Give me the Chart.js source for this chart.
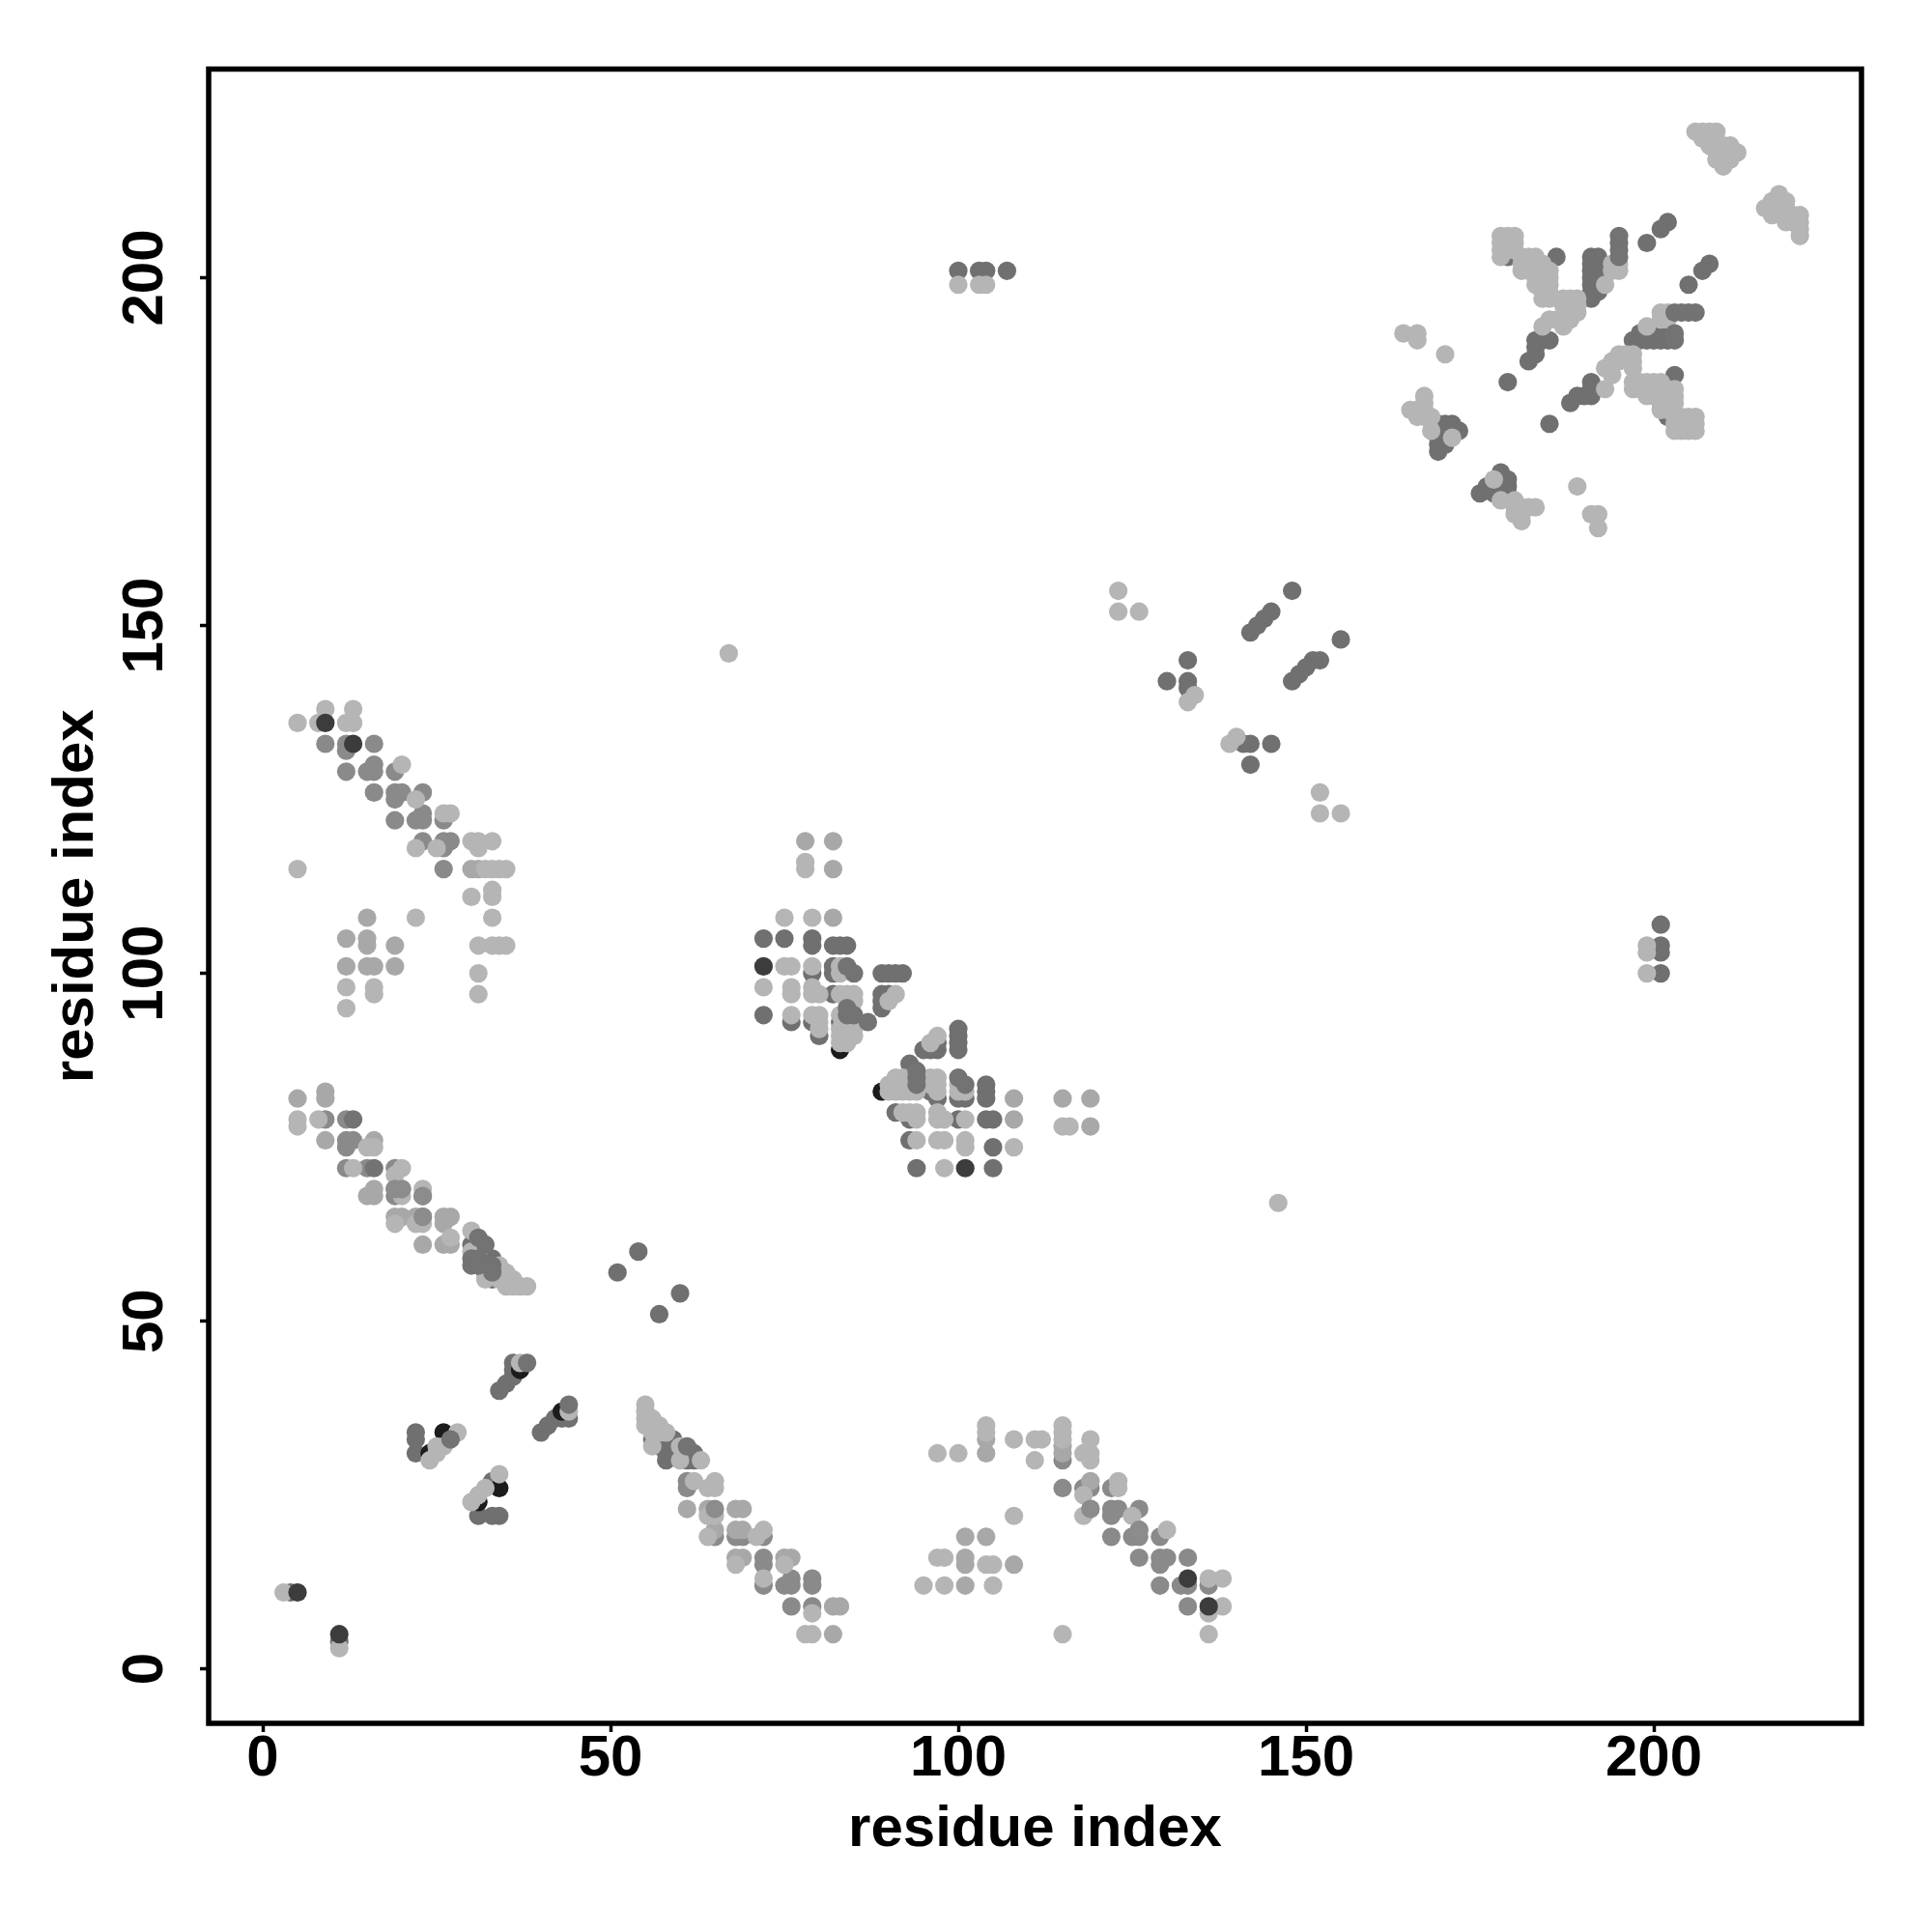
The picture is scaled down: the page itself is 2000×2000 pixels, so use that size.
<!DOCTYPE html>
<html>
<head>
<meta charset="utf-8">
<script src="https://cdn.jsdelivr.net/npm/chart.js@4"></script>
<style>
    body { margin: 0; background: #fff; }
</style>
</head>
<body>
<canvas id="contactMap" width="2000" height="2000"></canvas>
<script>
const tickValues = [0, 50, 100, 150, 200];
const xTitle = 'residue index';
const yTitle = 'residue index';

// contacts as [residue x, residue y], one list per grey level
const blackContacts = [[83,89],[89,83],[37,43],[43,37],[26,34],[24,31],[34,26],[31,24]];

const deepContacts = [
    [4,11],[11,4],
    [202,208],[201,207],[199,205],[208,202],[207,201],[205,199],
    [191,203],[192,203],[191,202],[192,202],[191,201],[192,201],[191,200],[192,200],[191,199],[192,199],[191,198],[192,198],[191,197],
    [186,203],[179,203],[183,191],[184,191],[185,191],[183,190],[183,189],[182,188],[179,185],
    [197,191],[198,192],[198,191],[199,191],[199,192],[200,191],[200,192],[201,191],[201,192],[202,191],[202,192],
    [191,185],[191,184],[191,183],[190,183],[189,183],[188,182],[185,179],[202,180],[203,186],
    [169,179],[170,179],[171,179],[172,178],[169,178],[170,178],[171,178],[169,177],[170,177],[169,176],[170,176],[169,175],
    [178,172],[178,171],[179,171],[178,170],[179,170],[175,169],[176,170],[177,169],[178,169],[179,169],
    [148,155],[145,152],[144,151],[143,150],[142,149],[155,148],[152,145],[151,145],[150,144],[149,143],[148,142],
    [133,145],[133,142],[130,142],[133,141],[141,133],[142,133],[145,133],[142,130],
    [100,201],[103,201],[104,201],[107,201],[201,107],[201,104],[201,103],[201,100],
    [72,105],[75,105],[79,105],[79,104],[82,104],[83,104],[84,104],[82,101],[82,100],[79,100],
    [89,100],[90,100],[91,100],[92,100],[89,97],[89,96],[89,95],[90,97],[82,97],[72,94],[76,93],[79,93],[80,91],[83,93],
    [100,92],[100,91],[100,90],[100,89],[97,90],[97,89],[96,89],[95,89],[93,87],
    [97,82],[96,83],[100,82],[101,82],[104,84],[104,83],[104,82],[91,80],[93,79],[100,79],[104,79],[105,79],[93,76],[105,75],[94,72],[105,72],
    [30,61],[33,59],[32,57],[33,56],
    [54,60],[51,57],[60,54],[57,51],[36,44],[36,43],[36,42],[35,41],[34,40],[42,36],[41,35],[40,34],[43,36],[44,36],
    [22,34],[22,33],[22,31],[31,22],[33,22],[34,22],[33,27],
    [56,33],[57,33],[57,32],[58,31],[58,30],[59,33],[59,32],[61,31],[61,30],[62,31],[62,30]
];

const midContacts = [
    [9,133],[12,133],[16,133],[12,132],[12,129],[15,129],[16,130],[16,129],[19,129],
    [16,126],[19,126],[20,126],[19,125],[23,126],[19,122],[22,122],[23,122],[23,123],[26,122],
    [23,119],[26,119],[26,118],[27,119],[26,115],
    [9,79],[12,79],[12,76],[13,76],[12,75],[12,72],[15,72],[19,72],[19,69],[19,68],[20,69],[23,68],[23,65],
    [61,27],[61,26],[65,19],[68,19],[69,19],[72,19],[72,16],[72,15],[72,12],[75,12],[76,13],[76,12],[79,13],[79,12],[76,9],[79,9],
    [115,30],[115,26],[118,26],[119,26],[119,23],[122,26],[122,23],[123,23],[122,22],[126,23],
    [122,19],[125,19],[126,20],[126,19],[129,19],[126,16],[129,16],[130,16],[129,15],[133,16],
    [129,12],[132,12],[133,12],[136,12],[133,9]
];

const softContacts = [
    [78,119],[82,119],[82,115],[82,108],[108,82],[115,82],[119,82],[119,78],[108,79],
    [15,108],[12,105],[15,105],[15,104],[19,104],[12,101],[15,101],[16,101],[19,101],[30,115],[31,115],
    [5,82],[9,83],[9,82],[9,76],[16,76],[19,65],[20,65],[22,65],[26,65],[27,65],[26,64],[23,61],[26,61],[27,61],[16,69],[16,68],[15,68],
    [61,23],[64,23],[68,23],[69,23],[65,20],[68,20],[69,20],[68,16],[69,16],[75,16],[76,16],[82,9],[83,9],[82,5],
    [101,19],[104,19],[101,16],[101,15],[108,15],[101,12],[104,33],[104,31],[115,32],[115,31],[119,27]
];

const paleContacts = [
    [3,11],[11,3],
    [206,221],[207,221],[208,221],[209,221],[207,220],[208,220],[208,219],[209,219],[210,219],[211,219],[209,218],[210,218],[211,218],[212,218],[209,217],[210,217],[211,217],[210,216],
    [218,212],[217,211],[218,211],[219,211],[216,210],[217,210],[218,210],[219,210],[217,209],[219,209],[220,209],[221,209],[219,208],[220,208],[221,208],[221,207],[221,206],
    [194,201],[195,201],[194,202],[195,202],[193,199],
    [178,206],[179,206],[180,206],[178,205],[179,205],[180,205],[178,204],[179,204],[180,204],[178,203],
    [181,203],[182,203],[183,203],[181,202],[182,202],[183,202],[184,202],[181,201],[182,201],[183,201],[184,201],[185,201],
    [183,200],[184,200],[185,200],[183,199],[184,199],[185,199],[184,198],[185,198],[184,197],[185,197],
    [187,197],[188,197],[189,197],[187,196],[188,196],[189,196],[188,195],[189,195],[185,194],[186,194],[188,194],[184,193],[187,193],
    [201,195],[202,195],[201,194],[202,194],[199,193],
    [195,189],[196,189],[197,189],[194,188],[195,188],[197,188],[193,187],[197,187],[194,186],[193,184],
    [197,185],[198,185],[199,185],[200,185],[201,185],[197,184],[198,184],[199,184],[200,184],[201,184],[202,184],[203,184],
    [199,183],[200,183],[201,183],[202,183],[203,183],[201,182],[202,182],[203,182],[201,181],[202,181],
    [203,180],[204,180],[205,180],[206,180],[203,179],[204,179],[205,179],[206,179],[203,178],[204,178],[205,178],[206,178],
    [164,192],[166,192],[166,191],[170,189],[167,183],[167,182],[165,181],[166,181],[167,181],[166,180],[167,180],[168,180],[168,178],[171,177],
    [177,171],[178,168],[180,168],[180,167],[180,166],[181,167],[181,166],[181,165],[182,167],[183,167],[189,170],[191,166],[192,166],[192,164],
    [123,155],[123,152],[126,152],[134,140],[133,139],[139,133],[140,134],[152,126],[152,123],[155,123],[67,146],[146,67],
    [100,199],[103,199],[104,199],[199,104],[199,103],[199,100],
    [78,116],[78,115],[75,108],[79,108],[75,101],[76,101],[79,101],[83,101],[83,100],[91,97],[90,96],
    [72,98],[76,98],[76,97],[79,98],[79,97],[80,97],[83,97],[84,97],[85,97],[85,96],[84,96],
    [76,94],[79,94],[80,94],[80,93],[80,92],[83,94],[83,92],[83,91],[83,90],[84,90],[85,92],[85,91],
    [97,91],[96,90],[90,84],[91,85],[91,84],[90,83],[91,83],[92,83],[93,83],[94,83],[92,84],[92,85],
    [96,85],[97,85],[96,84],[97,84],[97,83],[100,84],[100,83],[101,83],
    [92,80],[93,80],[94,80],[94,79],[97,80],[97,79],[98,79],[101,79],[94,76],[97,76],[98,76],[101,76],[101,75],[108,75],[98,72],
    [115,78],[116,78],
    [9,138],[13,138],[5,136],[8,136],[12,136],[13,136],[20,130],[22,125],[26,123],[27,123],[22,118],[25,118],
    [30,119],[31,119],[31,118],[33,119],[5,115],[32,115],[33,115],[34,115],[35,115],
    [30,111],[33,112],[33,111],[33,108],[22,108],[31,104],[33,104],[34,104],[35,104],[31,100],[12,98],[16,98],[16,97],[31,97],[12,95],
    [5,79],[5,78],[8,79],[15,75],[16,75],[13,72],[20,72],[19,71],[20,68],[23,69],[19,64],[22,64],[23,64],[27,62],
    [30,63],[30,60],[31,60],[34,58],[34,57],[35,57],[36,56],[34,56],[35,56],[35,55],[36,55],[37,55],[38,55],[32,56],
    [37,44],[44,37],[28,34],[26,32],[25,32],[24,30],[25,31],[34,28],[32,26],[31,25],[30,24],
    [55,38],[55,37],[55,36],[55,35],[56,36],[56,35],[57,35],[56,34],[57,34],[58,34],[56,32],[60,32],[60,30],[63,30],
    [62,27],[64,26],[65,27],[65,26],[64,22],[65,22],[64,19],[71,19],[72,20],[68,15],[75,15],[72,13],[79,8],[78,5],[79,5],
    [97,31],[100,31],[104,35],[104,34],[108,33],[111,33],[112,33],[111,30],[115,35],[115,34],[115,33],
    [119,33],[118,31],[119,31],[119,30],[118,25],[123,27],[123,26],[118,22],[125,22],[108,22],[130,20],
    [97,16],[98,16],[104,15],[105,15],[95,12],[98,12],[105,12],[136,13],[138,13],[136,8],[138,9],[115,5],[136,5]
];

// these sit on top of the pale points in the picture
const deepOnTop = [
    [195,206],[195,205],[195,204],[195,203],[203,195],[204,195],[205,195],[206,195],[203,192],[203,191],
    [84,101],[85,100],[84,95],[84,94],[85,94],[87,93],[94,86],[94,85],[94,84],[101,84],[100,85],[38,44],[44,38],[27,33],[13,79],[16,72],
    [31,62],[32,61],[30,59],[30,58],[31,59],[31,58],[33,58],[33,57],[61,32]
];
const midOnTop = [[65,23],[23,68],[19,69],[20,69],[23,65],[119,23],[126,20]];

const darkContacts = [[5,11],[11,5],[72,101],[101,72],[9,136],[13,133],[133,13],[136,9]];

// bottom layer first, chart.js paints the first dataset last so this gets reversed below
const greyLevels = [
    { contacts: deepContacts, colour: '#707070' },
    { contacts: midContacts, colour: '#8a8a8a' },
    { contacts: softContacts, colour: '#a8a8a8' },
    { contacts: blackContacts, colour: '#1c1c1c' },
    { contacts: paleContacts, colour: '#b5b5b5' },
    { contacts: deepOnTop, colour: '#737373' },
    { contacts: midOnTop, colour: '#8c8c8c' },
    { contacts: darkContacts, colour: '#3c3c3c' }
];

const plotBox = {
    id: 'plotBox',
    afterDatasetsDraw(chart) {
        const area = chart.chartArea;
        const ctx = chart.ctx;
        ctx.save();
        ctx.strokeStyle = '#000';
        ctx.lineWidth = 5.5;
        ctx.strokeRect(area.left, area.top, area.right - area.left, area.bottom - area.top);
        ctx.restore();
    }
};

function axisOptions(min, max, title, size, fitSize) {
    return {
        type: 'linear',
        min: min,
        max: max,
        afterBuildTicks: scale => { scale.ticks = tickValues.map(v => ({ value: v })); },
        afterFit: scale => { scale[fitSize] = size; },
        border: { display: false },
        grid: { drawOnChartArea: false, tickLength: 9, tickWidth: 3.5, tickColor: '#000' },
        title: {
            display: true,
            text: title,
            color: '#000',
            font: { family: 'Liberation Sans', size: 60, weight: 'bold' }
        },
        ticks: {
            color: '#000',
            font: { family: 'Liberation Sans', size: 60, weight: 'bold' }
        }
    };
}

const xAxis = axisOptions(-7.78, 229.86, xTitle, 216, 'height');
xAxis.ticks.padding = -8;
xAxis.ticks.maxRotation = 0;
xAxis.title.padding = { top: 0, bottom: 70 };

const yAxis = axisOptions(-7.82, 230, yTitle, 216, 'width');
yAxis.ticks.minRotation = 90;
yAxis.ticks.maxRotation = 90;
yAxis.ticks.crossAlign = 'center';
yAxis.ticks.padding = 5;
yAxis.title.padding = { top: 43, bottom: 0 };

new Chart(document.getElementById('contactMap'), {
    type: 'scatter',
    data: {
        datasets: greyLevels.slice().reverse().map(level => ({
            data: level.contacts.map(c => ({ x: c[0], y: c[1] })),
            backgroundColor: level.colour,
            borderWidth: 0,
            pointRadius: 9.6,
            pointHoverRadius: 9.6
        }))
    },
    options: {
        responsive: false,
        animation: false,
        layout: { padding: { left: 0, top: 71.5, right: 73, bottom: 0 } },
        plugins: { legend: { display: false }, tooltip: { enabled: false } },
        scales: { x: xAxis, y: yAxis }
    },
    plugins: [plotBox]
});
</script>
</body>
</html>
